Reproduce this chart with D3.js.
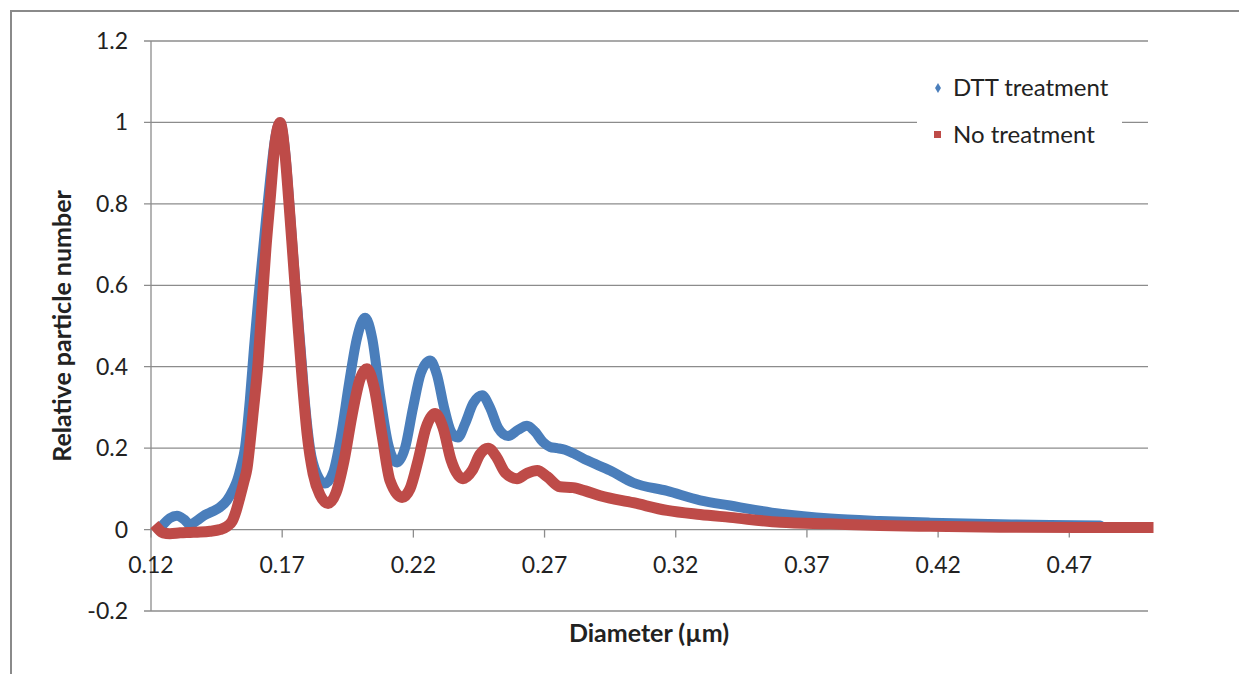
<!DOCTYPE html>
<html>
<head>
<meta charset="utf-8">
<script src="https://cdn.jsdelivr.net/npm/d3@7"></script>
<style>
  body { margin: 0; background: #fff; }
  svg { font-family: Lato, "Open Sans", sans-serif; }
</style>
</head>
<body>
<svg id="chart" width="1239" height="674"></svg>
<script>
// diameter (µm) and relative particle number
const dttDiameter = [0.1246,0.1272,0.1299,0.1326,0.1349,0.1375,0.1406,0.1436,0.1463,0.1490,0.1513,0.1528,0.1543,0.1558,0.1577,0.1593,0.1608,0.1623,0.1638,0.1654,0.1673,0.1692,0.1711,0.1726,0.1741,0.1757,0.1772,0.1787,0.1806,0.1833,0.1863,0.1894,0.1924,0.1955,0.1985,0.2016,0.2043,0.2073,0.2104,0.2138,0.2168,0.2199,0.2229,0.2264,0.2290,0.2317,0.2344,0.2370,0.2397,0.2428,0.2462,0.2492,0.2523,0.2561,0.2599,0.2633,0.2664,0.2694,0.2721,0.2748,0.2778,0.2817,0.2862,0.2950,0.3038,0.3167,0.3293,0.3407,0.3598,0.3789,0.3979,0.4170,0.4437,0.4627,0.4818];
const dttValue = [0.012,0.028,0.034,0.025,0.012,0.022,0.036,0.045,0.055,0.072,0.098,0.12,0.155,0.20,0.32,0.45,0.56,0.66,0.76,0.86,0.96,1.0,0.93,0.81,0.68,0.55,0.43,0.31,0.20,0.135,0.113,0.14,0.23,0.36,0.47,0.52,0.47,0.33,0.21,0.165,0.2,0.3,0.385,0.415,0.38,0.3,0.24,0.226,0.26,0.31,0.33,0.3,0.25,0.23,0.245,0.255,0.24,0.215,0.203,0.2,0.196,0.185,0.17,0.145,0.115,0.095,0.072,0.059,0.039,0.027,0.021,0.017,0.013,0.011,0.01];

const noDiameter = [0.1227,0.1246,0.1272,0.1311,0.1349,0.1387,0.1425,0.1463,0.1490,0.1509,0.1524,0.1539,0.1555,0.1566,0.1577,0.1589,0.1608,0.1623,0.1638,0.1654,0.1673,0.1692,0.1711,0.1726,0.1741,0.1757,0.1776,0.1795,0.1818,0.1844,0.1875,0.1905,0.1936,0.1966,0.1997,0.2023,0.2050,0.2081,0.2111,0.2157,0.2187,0.2218,0.2248,0.2283,0.2313,0.2344,0.2389,0.2424,0.2454,0.2485,0.2515,0.2550,0.2595,0.2633,0.2672,0.2710,0.2759,0.2809,0.2855,0.2912,0.3038,0.3167,0.3293,0.3407,0.3598,0.3789,0.3979,0.4170,0.4437,0.4742,0.5];
const noValue = [0.002,-0.008,-0.01,-0.008,-0.007,-0.006,-0.004,0.0,0.008,0.02,0.045,0.08,0.12,0.15,0.21,0.285,0.41,0.55,0.69,0.81,0.95,1.0,0.92,0.8,0.67,0.53,0.37,0.235,0.137,0.085,0.064,0.09,0.17,0.28,0.37,0.395,0.35,0.23,0.12,0.079,0.1,0.17,0.25,0.285,0.25,0.17,0.125,0.145,0.185,0.2,0.18,0.14,0.125,0.138,0.145,0.13,0.105,0.103,0.095,0.083,0.066,0.047,0.037,0.03,0.018,0.014,0.01,0.008,0.006,0.005,0.005];

const xTicks = [0.12,0.17,0.22,0.27,0.32,0.37,0.42,0.47];
const yTicks = [-0.2,0,0.2,0.4,0.6,0.8,1,1.2];
const yTickLabels = ["-0.2","0","0.2","0.4","0.6","0.8","1","1.2"];
const seriesNames = ["DTT treatment","No treatment"];
const colors = ["#4a7ebb","#be4b48"];

const svg = d3.select("#chart");
const gridColor = "#8c8c8c";

// outer chart frame
svg.append("rect")
  .attr("x", 11).attr("y", 11)
  .attr("width", 1260).attr("height", 700)
  .attr("fill", "none").attr("stroke", "#8a8a8a").attr("stroke-width", 2);

const x = d3.scaleLinear().domain([0.12, 0.5]).range([151, 1148]);
const y = d3.scaleLinear().domain([-0.2, 1.2]).range([611, 41]);

// horizontal gridlines
svg.append("g").selectAll("line")
  .data(yTicks)
  .join("line")
    .attr("x1", 144).attr("x2", x(0.5))
    .attr("y1", d => y(d)).attr("y2", d => y(d))
    .attr("stroke", gridColor).attr("stroke-width", 1.3);

// y axis line
svg.append("line")
  .attr("x1", x(0.12)).attr("x2", x(0.12))
  .attr("y1", y(1.2)).attr("y2", y(-0.2))
  .attr("stroke", gridColor).attr("stroke-width", 1.3);

svg.append("g").selectAll("text")
  .data(yTicks)
  .join("text")
    .attr("x", 128).attr("y", d => y(d))
    .attr("dy", "0.35em")
    .attr("text-anchor", "end")
    .style("font-size", "23px").attr("fill", "#222")
    .text((d, i) => yTickLabels[i]);

// x tick marks on the zero line, labels below
svg.append("g").selectAll("line")
  .data(xTicks)
  .join("line")
    .attr("x1", d => x(d)).attr("x2", d => x(d))
    .attr("y1", y(0)).attr("y2", y(0) + 8)
    .attr("stroke", gridColor).attr("stroke-width", 1.3);

svg.append("g").selectAll("text")
  .data(xTicks)
  .join("text")
    .attr("x", d => x(d)).attr("y", 573)
    .attr("text-anchor", "middle")
    .style("font-size", "23px").attr("fill", "#222")
    .text(d => d.toFixed(2));

// series
const line = d3.line()
  .x(d => x(d[0])).y(d => y(d[1]))
  .curve(d3.curveMonotoneX);

const dtt = dttDiameter.map((d, i) => [d, dttValue[i]]);
const none = noDiameter.map((d, i) => [d, noValue[i]]);

svg.append("path")
  .datum(dtt)
  .attr("d", line)
  .attr("fill", "none").attr("stroke", colors[0])
  .attr("stroke-width", 10).attr("stroke-linecap", "round").attr("stroke-linejoin", "round");

svg.append("path")
  .datum(none)
  .attr("d", line)
  .attr("fill", "none").attr("stroke", colors[1])
  .attr("stroke-width", 11).attr("stroke-linecap", "square").attr("stroke-linejoin", "round");

// axis titles
svg.append("text")
  .attr("x", 649).attr("y", 642)
  .attr("text-anchor", "middle")
  .style("font-size", "25px").style("font-weight", "bold").attr("fill", "#222")
  .text("Diameter (µm)");

svg.append("text")
  .attr("transform", "translate(71,326) rotate(-90)")
  .attr("text-anchor", "middle")
  .style("font-size", "25px").style("font-weight", "bold").attr("fill", "#222")
  .text("Relative particle number");

// legend
const legend = svg.append("g");
legend.append("rect")
  .attr("x", 917).attr("y", 68).attr("width", 205).attr("height", 88)
  .attr("fill", "#fff");

legend.append("path")
  .attr("d", d3.symbol(d3.symbolDiamond, 30)())
  .attr("transform", "translate(938,88)")
  .attr("fill", colors[0]);
legend.append("rect")
  .attr("x", 934).attr("y", 131).attr("width", 7).attr("height", 7)
  .attr("fill", colors[1]);

legend.selectAll("text.lg")
  .data(seriesNames)
  .join("text")
    .attr("class", "lg")
    .attr("x", 953).attr("y", (d, i) => 96 + i * 47)
    .style("font-size", "24px").attr("fill", "#222")
    .text(d => d);
</script>
</body>
</html>
